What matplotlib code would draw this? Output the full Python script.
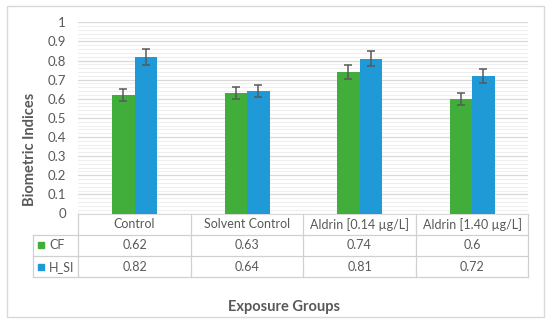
import numpy as np
import matplotlib
matplotlib.use("Agg")
import matplotlib.pyplot as plt
from matplotlib.patches import Rectangle

plt.rcParams['font.family'] = ['Lato', 'DejaVu Sans']

# data
groups = ["Control", "Solvent Control", "Aldrin [0.14 µg/L]", "Aldrin [1.40 µg/L]"]
cf = [0.62, 0.63, 0.74, 0.6]
h_si = [0.82, 0.64, 0.81, 0.72]
cf_err = [0.031, 0.032, 0.037, 0.030]
h_si_err = [0.041, 0.032, 0.040, 0.036]
series_names = ["CF", "H_SI"]

green = "#41AD3A"
blue = "#1F9AD7"
txt = "#595959"
grid_c = "#D9D9D9"

W, H = 550, 323
fig = plt.figure(figsize=(W / 100, H / 100), dpi=100)

# outer chart border
fig.patches.append(Rectangle((6.7 / W, 1 - 316.7 / H), (544.3 - 6.7) / W, (316.7 - 6) / H,
                             transform=fig.transFigure, fill=False, ec=grid_c, lw=1))

# plot area
x0, x1 = 78.3, 528.3
yt, yb = 22.3, 213.5
ax = fig.add_axes([x0 / W, 1 - yb / H, (x1 - x0) / W, (yb - yt) / H])
x = np.arange(len(groups))
bw = 0.2
ek = dict(ecolor="#595959", elinewidth=1.1, capsize=3.2, capthick=1.1)
ax.bar(x - bw / 2, cf, bw, color=green, yerr=cf_err, error_kw=ek, zorder=3)
ax.bar(x + bw / 2, h_si, bw, color=blue, yerr=h_si_err, error_kw=ek, zorder=3)
ax.set_xlim(-0.5, len(groups) - 0.5)
ax.set_ylim(0, 1)
ax.set_yticks(np.arange(0, 1.01, 0.1))
ax.set_yticklabels([f"{v:g}" for v in np.round(np.arange(0, 1.01, 0.1), 1)])
ax.set_yticks(np.arange(0, 1.001, 0.02), minor=True)
ax.grid(axis="y", which="major", color=grid_c, lw=0.9, zorder=0)
ax.grid(axis="y", which="minor", color="#EEEEEE", lw=0.8, zorder=0)
ax.tick_params(axis="y", which="both", length=0, pad=9, labelsize=9.5, labelcolor=txt)
ax.set_xticks([])
for s in ["top", "right", "left"]:
    ax.spines[s].set_visible(False)
ax.spines["bottom"].set_color(grid_c)

# data table below the plot
tl = 33.3
tb = 277.3
tax = fig.add_axes([tl / W, 1 - tb / H, (x1 - tl) / W, (tb - yb) / H])
lab_x = -0.5 - (x0 - tl) / (x1 - x0) * len(groups)
tax.set_xlim(lab_x, len(groups) - 0.5)
tax.set_ylim(0, 3)
tax.axis("off")
lc = "#D0D0D0"
for xv in np.arange(-0.5, len(groups), 1.0):
    tax.plot([xv, xv], [0, 3], color=lc, lw=0.9, clip_on=False)
tax.plot([lab_x, lab_x], [0, 2], color=lc, lw=0.9, clip_on=False)
for yv in [0, 1, 2]:
    tax.plot([lab_x, len(groups) - 0.5], [yv, yv], color=lc, lw=0.9, clip_on=False)
fs = 9
for i, g in enumerate(groups):
    tax.text(i, 2.5, g, ha="center", va="center", fontsize=fs, color=txt)
    tax.text(i, 1.5, f"{cf[i]:g}", ha="center", va="center", fontsize=fs, color=txt)
    tax.text(i, 0.5, f"{h_si[i]:g}", ha="center", va="center", fontsize=fs, color=txt)
for yv, name, c in [(1.5, series_names[0], green), (0.5, series_names[1], blue)]:
    tax.plot([lab_x + 0.07], [yv], marker="s", ms=4.8, color=c, clip_on=False)
    tax.text(lab_x + 0.14, yv, name, ha="left", va="center", fontsize=fs, color=txt)

fig.text(30 / W, 1 - 149 / H, "Biometric Indices", rotation=90, ha="center", va="center",
         fontsize=10.5, fontweight="bold", color=txt)
fig.text(284 / W, 1 - 306.5 / H, "Exposure Groups", ha="center", va="center",
         fontsize=10.5, fontweight="bold", color=txt)

fig.savefig("out.png", dpi=100)
